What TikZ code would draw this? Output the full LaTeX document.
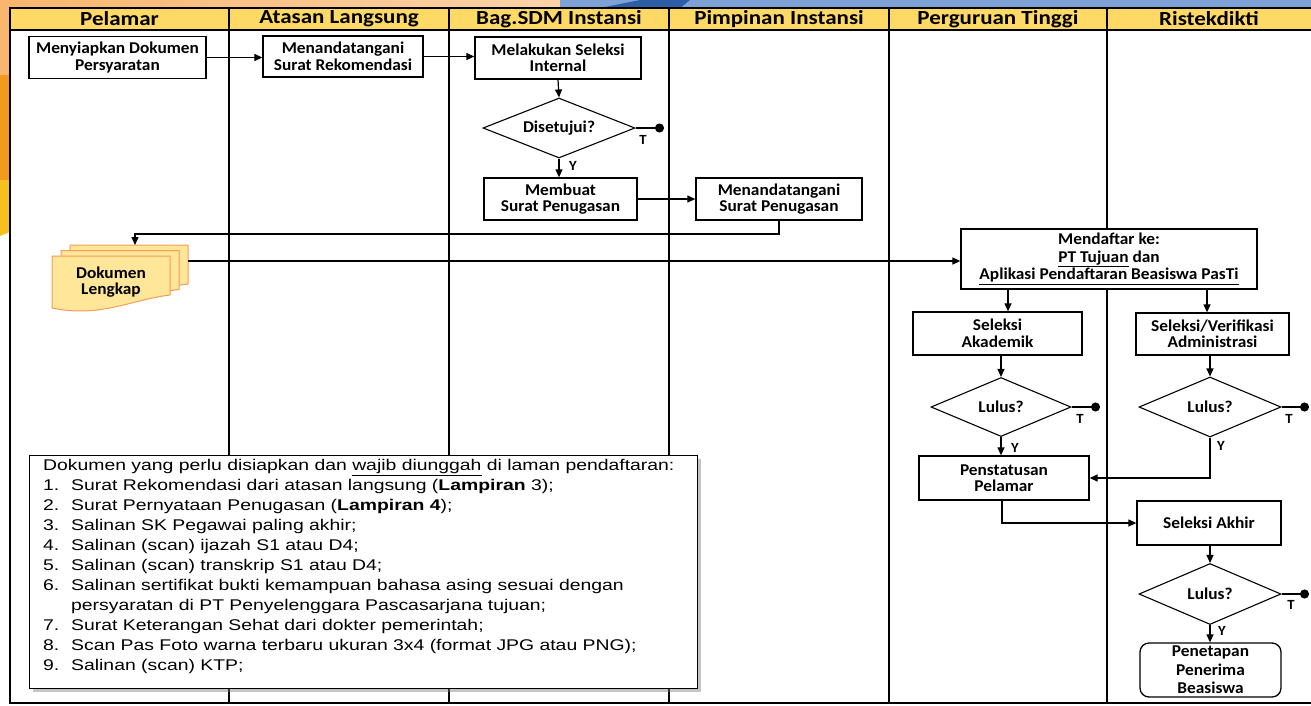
\documentclass[tikz,border=0pt]{standalone}
\usepackage{fontspec}
\setmainfont{Carlito}
\newfontfamily\flowfont[FakeStretch=1.05]{Carlito}
\newfontfamily\hdrfont[FakeStretch=1.15]{Carlito}
\newfontfamily\listfont[FakeStretch=1.25]{Liberation Sans}
\usetikzlibrary{arrows.meta,shapes.geometric,shadows}
\definecolor{hdryellow}{HTML}{FFD966}
\definecolor{docfill}{HTML}{FFE699}
\definecolor{docline}{HTML}{F59D56}
\definecolor{bgorange}{HTML}{F8B66E}
\definecolor{bgdark}{HTML}{F39A1E}
\definecolor{bgyellow}{HTML}{F6C11F}
\definecolor{bgblue}{HTML}{7EA1D6}
\definecolor{bgdblue}{HTML}{2E5DA8}
\tikzset{
  flowtxt/.style={font=\flowfont\bfseries\fontsize{16.5}{16.5}\selectfont},
  proc/.style={flowtxt, draw, line width=1.3pt, fill=white, align=center, inner sep=0pt},
  dec/.style={flowtxt, diamond, aspect=2.5, draw, line width=1.1pt, fill=white, inner sep=0pt},
  conn/.style={line width=1.2pt, -{Triangle[length=8pt,width=7pt]}},
  termline/.style={line width=1.2pt, -{Circle[length=9pt]}},
  lbl/.style={font=\flowfont\bfseries\fontsize{14}{14}\selectfont, inner sep=0pt},
  hdr/.style={font=\hdrfont\bfseries\fontsize{20}{20}\selectfont, inner sep=0pt},
  docst/.style={draw=docline, fill=docfill, line width=1pt},
}
\begin{document}
\begin{tikzpicture}[x=1pt,y=-1pt]
\useasboundingbox (0,0) rectangle (1311,705);
% slide background decoration
\fill[white] (0,0) rectangle (1311,705);
\shade[left color=bgorange, right color=bgorange!60] (0,0) rectangle (560,8);
\fill[bgblue] (560,0) rectangle (1311,8);
\fill[bgdblue] (600,8) -- (640,0) -- (690,0) -- (680,8) -- cycle;
\fill[bgorange] (0,0) rectangle (10,75);
\fill[bgdark] (0,75) rectangle (10,180);
\fill[bgyellow] (0,180) -- (10,180) -- (10,232) -- (0,236) -- cycle;
% swimlane table
\fill[hdryellow] (10,8) rectangle (1312,30);
\draw[line width=1.5pt] (10,8) rectangle (1312,703);
\draw[line width=1.5pt] (10,30) -- (1312,30);
\foreach \xx in {229,449,669,889,1107}{\draw[line width=1.3pt] (\xx,8) -- (\xx,703);}
\node[hdr] (h1) at (119.5,19) {Pelamar};
\node[hdr] (h2) at (339,19) {Atasan Langsung};
\node[hdr] (h3) at (559,19) {Bag.SDM Instansi};
\node[hdr] (h4) at (779,19) {Pimpinan Instansi};
\node[hdr] (h5) at (998,19) {Perguruan Tinggi};
\node[hdr] (h6) at (1209,19) {Ristekdikti};
% process nodes
\node[proc, minimum width=177pt, minimum height=42pt] (n1) at (117.5,57.5) {Menyiapkan Dokumen\\Persyaratan};
\node[proc, minimum width=160pt, minimum height=41pt] (n2) at (343,56.5) {Menandatangani\\Surat Rekomendasi};
\node[proc, minimum width=166pt, minimum height=42pt] (n3) at (558,58) {Melakukan Seleksi\\Internal};
\node[dec, minimum width=152pt, minimum height=60pt] (d1) at (559,128) {Disetujui?};
\node[proc, minimum width=153pt, minimum height=42pt] (n4) at (560.5,199) {Membuat\\Surat Penugasan};
\node[proc, minimum width=166pt, minimum height=42pt] (n5) at (779,199) {Menandatangani\\Surat Penugasan};
% document stack
\foreach \sx/\sy in {18/-11,9/-5.5,0/0}{
  \filldraw[docst, shift={(\sx,\sy)}] (52,256) -- (170,256) -- (170,295) .. controls (130,300) and (100,318) .. (52,308) -- cycle;
}
\node[flowtxt, align=center, inner sep=0pt] (doc) at (111,282) {Dokumen\\Lengkap};
\coordinate (docin) at (135,245);
\coordinate (docout) at (188,261);
\node[proc, minimum width=296pt, minimum height=60pt, font=\flowfont\bfseries\fontsize{16.5}{17.5}\selectfont] (n6) at (1109,259) {Mendaftar ke:\\\underline{PT Tujuan} dan\\\underline{Aplikasi Pendaftaran Beasiswa PasTi}};
\node[proc, minimum width=169pt, minimum height=43pt] (n7) at (997.5,333.5) {Seleksi\\Akademik};
\node[proc, minimum width=153pt, minimum height=42pt] (n8) at (1212.5,334) {Seleksi/Verifikasi\\Administrasi};
\node[dec, minimum width=140pt, minimum height=59pt] (d2) at (1001,407) {Lulus?};
\node[dec, minimum width=142pt, minimum height=60pt] (d3) at (1210,407) {Lulus?};
\node[proc, minimum width=170pt, minimum height=44pt] (n9) at (1004,478) {Penstatusan\\Pelamar};
\node[proc, minimum width=144pt, minimum height=44pt] (n10) at (1209,523) {Seleksi Akhir};
\node[dec, minimum width=142pt, minimum height=61pt] (d4) at (1210,594) {Lulus?};
\node[proc, rounded corners=9pt, minimum width=141pt, minimum height=54pt, font=\flowfont\bfseries\fontsize{16.5}{18.5}\selectfont] (n11) at (1210.5,670) {Penetapan\\Penerima\\Beasiswa};
% terminal dots
\coordinate (t1) at (664,128);
\coordinate (t2) at (1100,407);
\coordinate (t3) at (1309,407);
\coordinate (t4) at (1309,594);
% connectors
\draw[conn] (n1.east) -- (n1.east -| n2.west);
\draw[conn] (n2.east) -- (n2.east -| n3.west);
\draw[conn] (n3.south) -- (d1.north);
\draw[conn] (d1.south) -- (d1.south |- n4.north);
\draw[termline] (d1.east) -- (t1);
\draw[conn] (n4.east) -- (n4.east -| n5.west);
\draw[conn] (n5.south) -- (779,234) -- (135,234) -- (docin);
\draw[conn] (docout) -- (docout -| n6.west);
\draw[conn] (1008,0 |- n6.south) -- (1008,0 |- n7.north);
\draw[conn] (1207,0 |- n6.south) -- (1207,0 |- n8.north);
\draw[conn] (1001,0 |- n7.south) -- (d2.north);
\draw[conn] (1210,0 |- n8.south) -- (d3.north);
\draw[termline] (d2.east) -- (t2);
\draw[termline] (d3.east) -- (t3);
\draw[conn] (d2.south) -- (1001,0 |- n9.north);
\draw[conn] (d3.south) -- (1210,478) -- (n9.east);
\draw[conn] (1002,0 |- n9.south) -- (1002,523) -- (n10.west);
\draw[conn] (1210,0 |- n10.south) -- (d4.north);
\draw[termline] (d4.east) -- (t4);
\draw[conn] (d4.south) -- (1210,0 |- n11.north);
% labels
\node[lbl] (l1) at (643,140) {T};
\node[lbl] (l2) at (573,166) {Y};
\node[lbl] (l3) at (1080,419) {T};
\node[lbl] (l4) at (1015,448) {Y};
\node[lbl] (l5) at (1289,419) {T};
\node[lbl] (l6) at (1221,446) {Y};
\node[lbl] (l7) at (1291,605) {T};
\node[lbl] (l8) at (1222,631) {Y};
% document list box
\node[draw, line width=1.2pt, fill=white, drop shadow={shadow xshift=3pt, shadow yshift=-3pt, opacity=0.45}, minimum width=668pt, minimum height=233pt, anchor=north west, inner sep=0pt] (tb) at (29,455) {};
\node[anchor=north west, align=left, inner sep=0pt, font=\listfont\fontsize{15.5}{20}\selectfont] (tbtext) at (43,459) {%
Dokumen yang perlu disiapkan dan \underline{wajib diunggah} di laman pendaftaran:\\
\makebox[28pt][l]{1.}Surat Rekomendasi dari atasan langsung (\textbf{Lampiran} 3);\\
\makebox[28pt][l]{2.}Surat Pernyataan Penugasan (\textbf{Lampiran 4});\\
\makebox[28pt][l]{3.}Salinan SK Pegawai paling akhir;\\
\makebox[28pt][l]{4.}Salinan (scan) ijazah S1 atau D4;\\
\makebox[28pt][l]{5.}Salinan (scan) transkrip S1 atau D4;\\
\makebox[28pt][l]{6.}Salinan sertifikat bukti kemampuan bahasa asing sesuai dengan\\
\hspace*{28pt}persyaratan di PT Penyelenggara Pascasarjana tujuan;\\
\makebox[28pt][l]{7.}Surat Keterangan Sehat dari dokter pemerintah;\\
\makebox[28pt][l]{8.}Scan Pas Foto warna terbaru ukuran 3x4 (format JPG atau PNG);\\
\makebox[28pt][l]{9.}Salinan (scan) KTP;};
\end{tikzpicture}
\end{document}
